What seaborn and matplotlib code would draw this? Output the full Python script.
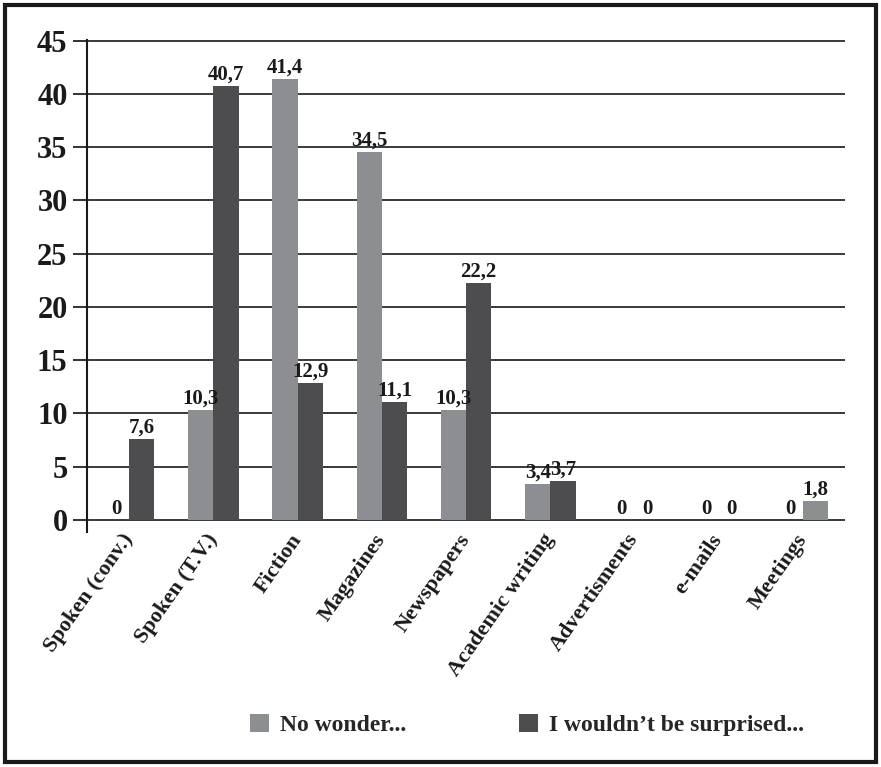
import matplotlib
matplotlib.use("Agg")
import matplotlib.pyplot as plt
import seaborn as sns
import pandas as pd
from matplotlib.patches import Rectangle
from matplotlib.transforms import ScaledTranslation

categories = ["Spoken (conv.)", "Spoken (T.V.)", "Fiction", "Magazines", "Newspapers",
              "Academic writing", "Advertisments", "e-mails", "Meetings"]
series_names = ["No wonder...", "I wouldn\u2019t be surprised..."]
no_wonder = [0, 10.3, 41.4, 34.5, 10.3, 3.4, 0, 0, 0]
wouldnt_be_surprised = [7.6, 40.7, 12.9, 11.1, 22.2, 3.7, 0, 0, 1.8]
y_ticks = [0, 5, 10, 15, 20, 25, 30, 35, 40, 45]

light = "#8d8e91"
dark = "#4d4d4f"
ink = "#1a1a1a"

df = pd.DataFrame({
    "category": categories * 2,
    "series": [series_names[0]] * len(categories) + [series_names[1]] * len(categories),
    "value": no_wonder + wouldnt_be_surprised,
})

sns.set_theme(style="white")
plt.rcParams["font.family"] = ["Liberation Serif", "DejaVu Serif"]
plt.rcParams["font.weight"] = "bold"

fig = plt.figure(figsize=(8.81, 7.67), dpi=100)
ax = fig.add_axes([0.0988, 0.3068, 0.8604, 0.641])

sns.barplot(data=df, x="category", y="value", hue="series", order=categories,
            hue_order=series_names, palette=[light, dark], width=0.6, gap=0,
            saturation=1, linewidth=0, ax=ax, legend=False)

# the Meetings bar of the second series is printed in the lighter tone
ax.containers[1][8].set_facecolor(light)

for cont, vals in zip(ax.containers, [no_wonder, wouldnt_be_surprised]):
    labels = [f"{v:g}".replace(".", ",") for v in vals]
    ax.bar_label(cont, labels=labels, padding=1, fontsize=15, fontweight="bold", color=ink)

ax.set_ylim(-1.1, 45.05)
ax.set_xlim(-0.5, len(categories) - 0.5)
ax.set_yticks(y_ticks)
ax.set_yticklabels([str(t) for t in y_ticks], fontsize=22, fontweight="bold", color=ink)
ax.set_xticks(range(len(categories)))
ax.set_xticklabels(categories, rotation=55, ha="right", va="center", rotation_mode="anchor",
                   fontsize=16, fontweight="bold", color=ink)
shift = ScaledTranslation(7 / 100, 0, fig.dpi_scale_trans)
for lbl in ax.get_xticklabels():
    lbl.set_transform(lbl.get_transform() + shift)
ax.tick_params(axis="y", length=10, width=1.3, color="#222222", pad=4, left=True)
ax.tick_params(axis="x", length=0, pad=3)
ax.set_xlabel("")
ax.set_ylabel("")

ax.set_axisbelow(True)
ax.yaxis.grid(True, color="#2a2a2a", linewidth=1.3)
ax.xaxis.grid(False)
for side in ["top", "right", "bottom"]:
    ax.spines[side].set_visible(False)
ax.spines["left"].set_color(ink)
ax.spines["left"].set_linewidth(1.5)

handles = [Rectangle((0, 0), 1, 1, facecolor=light, edgecolor="none"),
           Rectangle((0, 0), 1, 1, facecolor=dark, edgecolor="none")]
fig.legend(handles, series_names, loc="center left", bbox_to_anchor=(0.26, 0.055), ncol=2,
           frameon=False, handlelength=0.8, handleheight=0.8, handletextpad=0.45,
           columnspacing=4.8, prop={"family": "Liberation Serif", "weight": "bold", "size": 17})

fig.patches.append(Rectangle((5 / 881, 5 / 767), 871 / 881, 757 / 767, transform=fig.transFigure,
                             fill=False, edgecolor=ink, linewidth=3))

fig.savefig("out.png", dpi=100)
